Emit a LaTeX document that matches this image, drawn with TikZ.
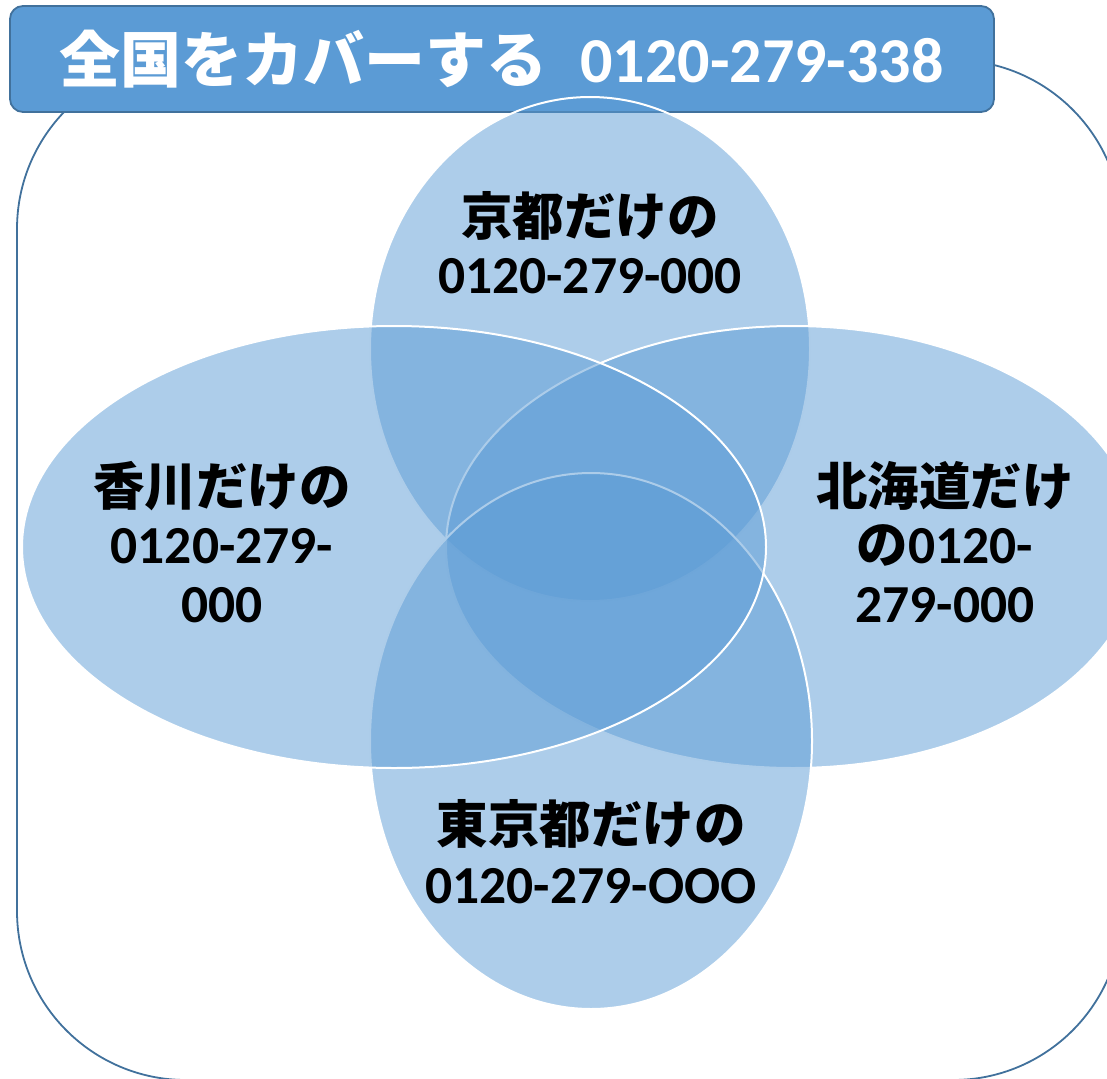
\documentclass[tikz,border=0pt]{standalone}
\usepackage{fontspec}
\setmainfont{Carlito}
\newfontfamily\jpfont{Noto Sans CJK JP}
\definecolor{acc}{HTML}{5B9BD5}
\definecolor{accdark}{HTML}{41719C}
\tikzset{
  venn/.style={fill=acc, fill opacity=0.5, draw=white, line width=2pt},
  frame/.style={draw=accdark, line width=1.8pt, rounded corners=169pt},
  header/.style={draw=accdark, fill=acc, line width=1.8pt, rounded corners=13pt},
  lbl/.style={anchor=base, inner sep=0pt, text=black},
  jpl/.style={lbl, font={\jpfont\bfseries\fontsize{51.5}{52}\selectfont}},
  dgl/.style={lbl, font={\bfseries\fontsize{53.5}{54}\selectfont}},
}
\begin{document}
\begin{tikzpicture}[x=1pt,y=-1pt]
\useasboundingbox (0,0) rectangle (1107,1078);
\begin{scope}
\clip (0,0) rectangle (1107,1078);
% background frame
\path[frame] (17,60) rectangle (1122,1080);
% header box
\path[header] (10,6) rectangle (994,112);
% Venn ellipses (drawing order matters)
\path[venn] (590,349) ellipse [x radius=220, y radius=252];
\path[venn] (793,547) ellipse [x radius=347, y radius=221];
\path[venn] (591,741) ellipse [x radius=221, y radius=268];
\path[venn] (394,547) ellipse [x radius=372, y radius=221];
\end{scope}
% header text
\node[anchor=base west, inner sep=0pt, text=white, font={\jpfont\bfseries\fontsize{61}{61}\selectfont}] (ttl1) at (59,83) {全国をカバーする};
\node[anchor=base west, inner sep=0pt, text=white, font={\bfseries\fontsize{64}{64}\selectfont}] (ttl2) at (580,83) {0120-279-338};
% Kyoto
\node[jpl] (ky1) at (590,235) {京都だけの};
\node[dgl] (ky2) at (590,293) {0120-279-000};
% Kagawa
\node[jpl] (kg1) at (222,505) {香川だけの};
\node[dgl] (kg2) at (222,563) {0120-279-};
\node[dgl] (kg3) at (222,622) {000};
% Hokkaido
\node[jpl] (hk1) at (945,505) {北海道だけ};
\node[dgl] (hk2) at (945,563) {{\jpfont\fontsize{51.5}{52}\selectfont の}0120-};
\node[dgl] (hk3) at (945,622) {279-000};
% Tokyo
\node[jpl] (tk1) at (591,843) {東京都だけの};
\node[dgl] (tk2) at (591,903) {0120-279-OOO};
\end{tikzpicture}
\end{document}
